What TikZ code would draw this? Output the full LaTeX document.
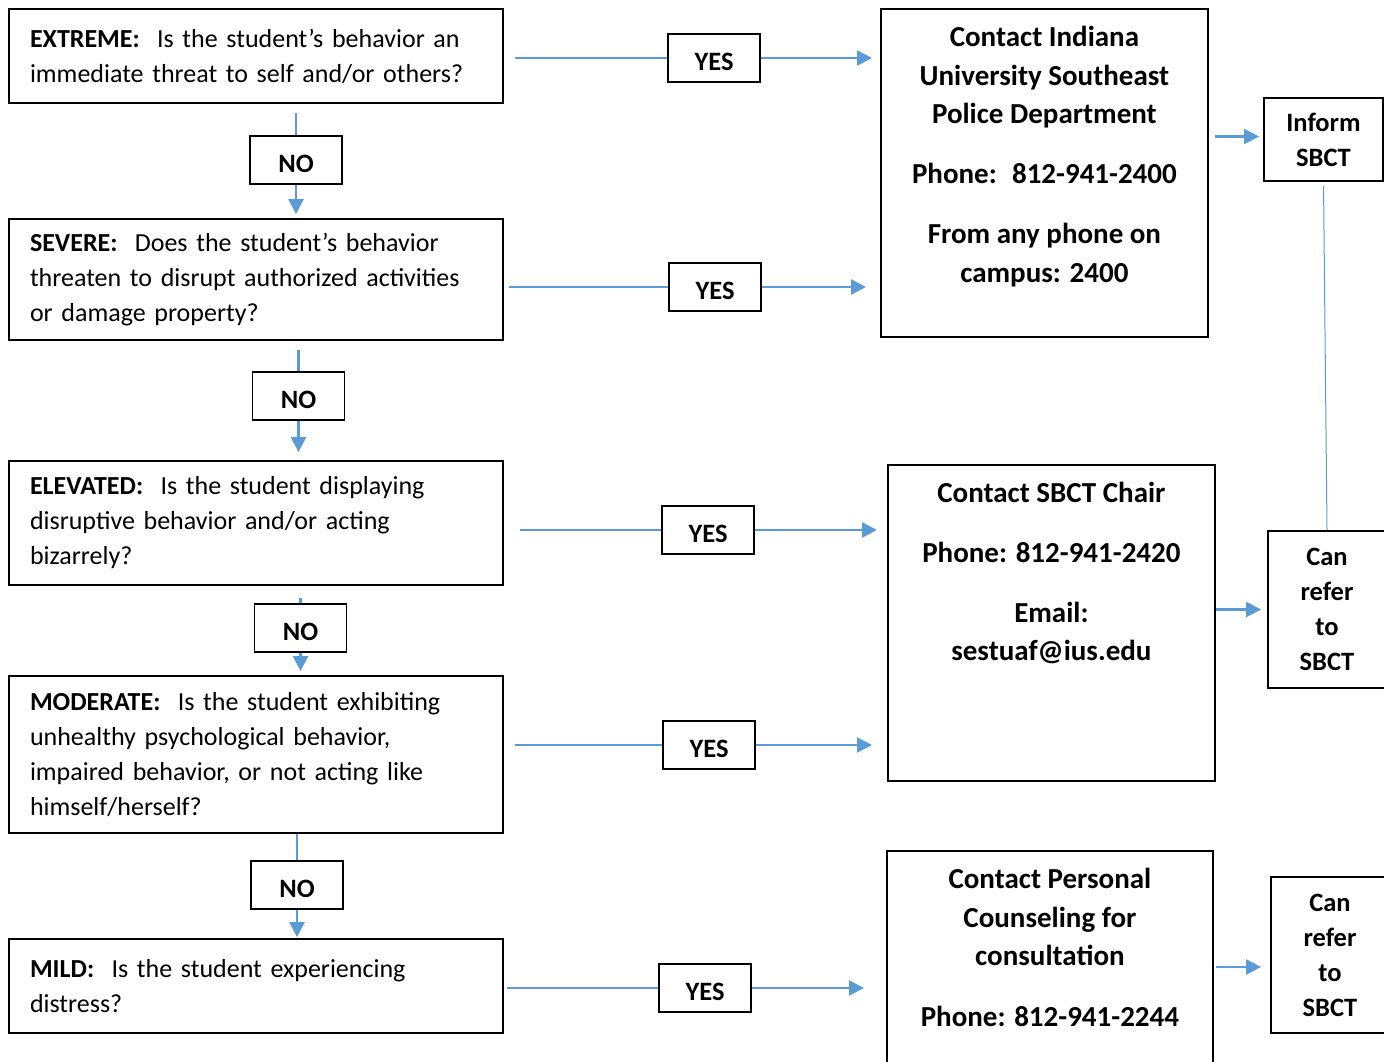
\documentclass[tikz,border=0pt]{standalone}
\usepackage{fontspec}
\setmainfont{Carlito}
\usetikzlibrary{arrows.meta}
\definecolor{flowblue}{RGB}{91,155,213}

\begin{document}
\begin{tikzpicture}[x=1pt,y=-1pt]
  \tikzset{levelbox/.style={draw=black,line width=1.8pt,text width=452pt,inner xsep=21pt,inner ysep=0pt,align=left,font=\fontsize{26}{35}\selectfont}}
  \tikzset{answerbox/.style={draw=black,line width=1.8pt,minimum width=92pt,minimum height=48pt,inner sep=0pt,text height=24pt,text depth=0pt,font=\fontsize{26.5}{35}\selectfont\bfseries}}
  \tikzset{contactbox/.style={draw=black,line width=1.8pt,minimum width=327pt,anchor=north west,inner sep=0pt}}
  \tikzset{contacttext/.style={anchor=north,align=center,inner sep=0pt,font=\fontsize{29}{38.5}\selectfont\bfseries}}
  \tikzset{sidebox/.style={draw=black,line width=1.8pt,align=center,inner sep=0pt,font=\fontsize{26.5}{35}\selectfont\bfseries}}
  \tikzset{flowline/.style={draw=flowblue,line width=2.4pt}}
  \tikzset{flowarrow/.style={flowline,-{Triangle[length=15pt,width=15pt]}}}
  \tikzset{referline/.style={draw=flowblue,line width=1pt}}

  \useasboundingbox (0,0) rectangle (1384,1061);
  \clip (0,0) rectangle (1384,1061);

  \node[levelbox,minimum height=94pt]  (extreme)  at (256,56)    {\textbf{EXTREME:}~ Is the student’s behavior an\\immediate threat to self and/or others?};
  \node[levelbox,minimum height=121pt] (severe)   at (256,279.5) {\textbf{SEVERE:}~ Does the student’s behavior\\threaten to disrupt authorized activities\\or damage property?};
  \node[levelbox,minimum height=124pt] (elevated) at (256,523)   {\textbf{ELEVATED:}~ Is the student displaying\\disruptive behavior and/or acting\\bizarrely?};
  \node[levelbox,minimum height=157pt] (moderate) at (256,754.5) {\textbf{MODERATE:}~ Is the student exhibiting\\unhealthy psychological behavior,\\impaired behavior, or not acting like\\himself/herself?};
  \node[levelbox,minimum height=94pt]  (mild)     at (256,986)   {\textbf{MILD:}~ Is the student experiencing\\distress?};

  \node[answerbox] (no1) at (296,160)   {NO};
  \node[answerbox] (no2) at (298.5,396) {NO};
  \node[answerbox] (no3) at (300.5,628) {NO};
  \node[answerbox] (no4) at (297,885)   {NO};

  \node[answerbox] (yes1) at (714,58)  {YES};
  \node[answerbox] (yes2) at (715,287) {YES};
  \node[answerbox] (yes3) at (708,530) {YES};
  \node[answerbox] (yes4) at (709,745) {YES};
  \node[answerbox] (yes5) at (705,988) {YES};

  \node[contactbox,minimum height=328pt] (police) at (880,8) {};
  \node[contacttext] (policetext) at ([yshift=-18pt]police.north) {Contact Indiana\\University Southeast\\Police Department\\[21.5pt]Phone:~ 812-941-2400\\[21.5pt]From any phone on\\campus: 2400};
  \node[contactbox,minimum height=316pt] (chair) at (887,464) {};
  \node[contacttext] (chairtext) at ([yshift=-18pt]chair.north) {Contact SBCT Chair\\[21.5pt]Phone: 812-941-2420\\[21pt]Email:\\sestuaf@ius.edu};
  \node[contactbox,minimum width=326pt,minimum height=260pt] (counsel) at (886,850) {};
  \node[contacttext] (counseltext) at ([yshift=-18pt]counsel.north) {Contact Personal\\Counseling for\\consultation\\[22pt]Phone: 812-941-2244};

  \node[sidebox,minimum width=119pt,minimum height=83pt]  (inform)   at (1323.5,139.5) {Inform\\SBCT};
  \node[sidebox,minimum width=118pt,minimum height=157pt] (refertop) at (1327,609.5)   {Can\\refer\\to\\SBCT};
  \node[sidebox,minimum width=118pt,minimum height=156pt] (referlow) at (1330,955)     {Can\\refer\\to\\SBCT};

  \draw[flowline,shorten <=9pt] (extreme.south -| no1) -- (no1.north);
  \draw[flowarrow,shorten >=4pt] (no1.south) -- (severe.north -| no1);
  \draw[flowline,shorten <=9pt] (severe.south -| no2) -- (no2.north);
  \draw[flowarrow,shorten >=8pt] (no2.south) -- (elevated.north -| no2);
  \draw[flowline,shorten <=12pt] (elevated.south -| no3) -- (no3.north);
  \draw[flowarrow,shorten >=4pt] (no3.south) -- (moderate.north -| no3);
  \draw[flowline] (moderate.south -| no4) -- (no4.north);
  \draw[flowarrow,shorten >=1pt] (no4.south) -- (mild.north -| no4);

  \draw[flowline,shorten <=11pt] (extreme.east |- yes1) -- (yes1.west);
  \draw[flowarrow,shorten >=8pt] (yes1.east) -- (yes1 -| police.west);
  \draw[flowline,shorten <=5pt] (severe.east |- yes2) -- (yes2.west);
  \draw[flowarrow,shorten >=14pt] (yes2.east) -- (yes2 -| police.west);
  \draw[flowline,shorten <=16pt] (elevated.east |- yes3) -- (yes3.west);
  \draw[flowarrow,shorten >=10pt] (yes3.east) -- (yes3 -| chair.west);
  \draw[flowline,shorten <=11pt] (moderate.east |- yes4) -- (yes4.west);
  \draw[flowarrow,shorten >=15pt] (yes4.east) -- (yes4 -| chair.west);
  \draw[flowline,shorten <=3pt] (mild.east |- yes5) -- (yes5.west);
  \draw[flowarrow,shorten >=22pt] (yes5.east) -- (yes5 -| counsel.west);

  \draw[flowarrow,shorten <=6pt,shorten >=4pt] ([yshift=3pt]inform.west -| police.east) -- ([yshift=3pt]inform.west);
  \draw[flowarrow,shorten >=6pt] (refertop.west -| chair.east) -- (refertop.west);
  \draw[flowarrow,shorten <=2pt,shorten >=9pt] ([yshift=-12pt]referlow.west -| counsel.east) -- ([yshift=-12pt]referlow.west);
  \draw[referline,shorten <=4pt] (inform.south) -- (refertop.north);
\end{tikzpicture}
\end{document}
